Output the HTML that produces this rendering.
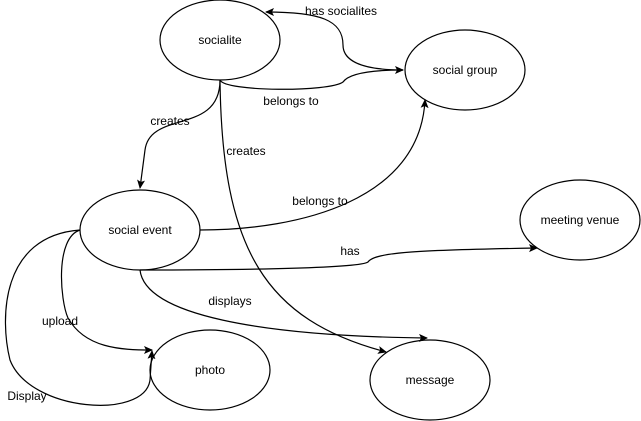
<!DOCTYPE html>
<html><head><style>
html,body{margin:0;padding:0;background:#fff;width:641px;height:421px;overflow:hidden}
text{font-family:"Liberation Sans",Arial,sans-serif;font-size:12px;fill:#000}
</style></head><body>
<svg width="641" height="421" viewBox="0 0 641 421" xmlns="http://www.w3.org/2000/svg">
<defs><marker id="a" markerWidth="10" markerHeight="10" refX="8" refY="4" orient="auto" markerUnits="userSpaceOnUse"><path d="M0,0 L9,4 L0,8 L2,4 Z" fill="#000"/></marker></defs>
<g fill="#fff" stroke="#000" stroke-width="1.2">
<ellipse cx="220" cy="40" rx="60" ry="40"/>
<ellipse cx="465" cy="70" rx="60" ry="40"/>
<ellipse cx="140" cy="230" rx="60" ry="40"/>
<ellipse cx="580" cy="220" rx="60" ry="40"/>
<ellipse cx="210" cy="370" rx="60" ry="40"/>
<ellipse cx="430" cy="380" rx="60" ry="40"/>
</g>
<g fill="none" stroke="#000" stroke-width="1.2">
<path d="M403,70 C360,70 343,60 343,45 C343,20 320,12 266,12" marker-end="url(#a)"/>
<path d="M220,80 C225,92 330,92 343,82 C350,72 380,70 403,70" marker-end="url(#a)"/>
<path d="M220,80 C220,135 150,110 145,150 L140,188" marker-end="url(#a)"/>
<path d="M220,80 C222,250 265,320 386,352" marker-end="url(#a)"/>
<path d="M200,230 C300,230 420,200 425,100" marker-end="url(#a)"/>
<path d="M140,270 C250,270 360,268 368,262 C375,252 420,250 537,248" marker-end="url(#a)"/>
<path d="M140,270 C145,315 260,336 427,338" marker-end="url(#a)"/>
<path d="M80,230 C55,238 60,300 68,318 C85,348 120,350 152,350" marker-end="url(#a)"/>
<path d="M80,230 C0,236 0,320 10,360 C30,412 145,420 150,380 L152,351" marker-end="url(#a)"/>
</g>
<g text-anchor="middle">
<text x="220" y="44">socialite</text>
<text x="465" y="74">social group</text>
<text x="140" y="234">social event</text>
<text x="580" y="224">meeting venue</text>
<text x="210" y="374">photo</text>
<text x="430" y="384">message</text>
</g>
<g text-anchor="middle">
<text x="341" y="15">has socialites</text>
<text x="291" y="105">belongs to</text>
<text x="170" y="125">creates</text>
<text x="246" y="155">creates</text>
<text x="320" y="205">belongs to</text>
<text x="350" y="255">has</text>
<text x="230" y="305">displays</text>
<text x="60" y="325">upload</text>
<text x="27" y="400">Display</text>
</g>
</svg>
</body></html>
